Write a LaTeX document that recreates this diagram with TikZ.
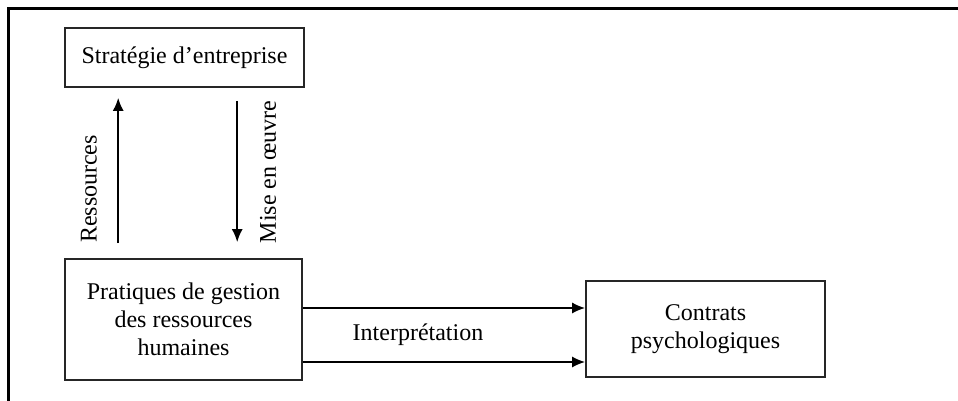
\documentclass[tikz,border=0pt]{standalone}
\usepackage{fontspec}
\setmainfont{Liberation Serif}
\usepackage{tikz}
\usetikzlibrary{arrows.meta}
\tikzstyle{grhbox} = [rectangle, 
draw=black!85, 
line width=1.6pt, 
align=center, 
font=\fontsize{24}{28}\selectfont, 
fill=white]
\tikzstyle{arrow} = [line width=1.9pt,-{Latex[length=13pt,width=11pt]}]
\tikzstyle{lbl} = [font=\fontsize{24}{28}\selectfont, inner sep=0pt]

\begin{document}
\begin{tikzpicture}[x=1pt, y=1pt]
    \useasboundingbox (0,0) rectangle (958,401);

    % frame
    \draw [line width=2.6pt] (958,392.5) -- (8.5,392.5) -- (8.5,0);

    \node (strat) [grhbox, minimum width=239pt, minimum height=59pt] at (184.5,343.5) {Stratégie d’entreprise};
    \node (prat) [grhbox, minimum width=237pt, minimum height=121pt] at (183.5,81.5) {Pratiques de gestion\\des ressources\\humaines};
    \node (contr) [grhbox, minimum width=239pt, minimum height=96pt] at (705.5,72) {Contrats\\psychologiques};

    \node (ress) [lbl, rotate=90] at (89,212) {Ressources};
    \node (mise) [lbl, rotate=90] at (268,229) {Mise en œuvre};
    \node (interp) [lbl] at (418,66) {Interprétation};

    % vertical arcs
    \draw [arrow] ([xshift=54pt,yshift=15pt]prat.north west) -- ([xshift=54pt,yshift=-10pt]strat.south west);
    \draw [arrow] ([xshift=173pt,yshift=-13pt]strat.south west) -- ([xshift=173pt,yshift=16pt]prat.north west);

    % horizontal arcs
    \draw [arrow] ([yshift=11.5pt]prat.east) -- ([yshift=21pt]contr.west);
    \draw [arrow] ([yshift=-42.5pt]prat.east) -- ([yshift=-33pt]contr.west);
\end{tikzpicture}
\end{document}
